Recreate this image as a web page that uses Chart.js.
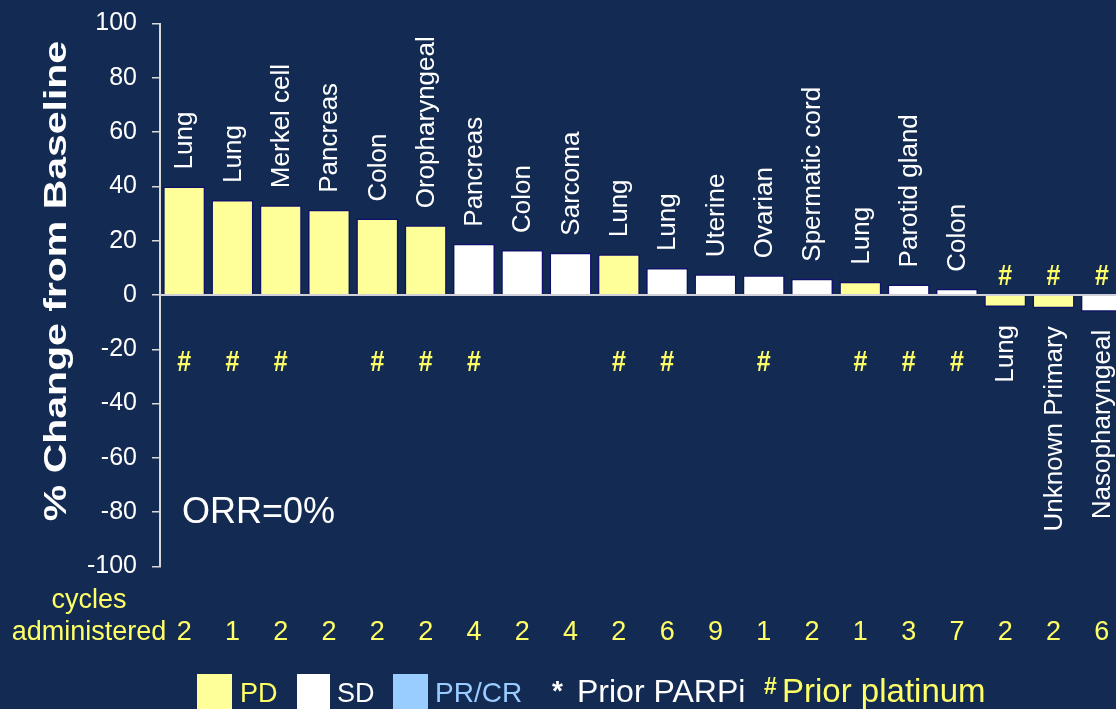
<!DOCTYPE html>
<html>
<head>
<meta charset="utf-8">
<script src="https://cdn.jsdelivr.net/npm/chart.js@4/dist/chart.umd.min.js"></script>
<style>
  html, body { margin: 0; padding: 0; background: #132a52; overflow: hidden; }
  canvas { display: block; }
</style>
</head>
<body>
<canvas id="c" width="1126" height="709" style="width:1126px;height:709px"></canvas>
<script>
// ---- Data ----
const categories = ['Lung', 'Lung', 'Merkel cell', 'Pancreas', 'Colon', 'Oropharyngeal', 'Pancreas', 'Colon', 'Sarcoma', 'Lung',
  'Lung', 'Uterine', 'Ovarian', 'Spermatic cord', 'Lung', 'Parotid gland', 'Colon', 'Lung', 'Unknown Primary', 'Nasopharyngeal'];
const changeValues = [40, 35, 33.1, 31.4, 28.2, 25.7, 18.9, 16.6, 15.6, 15.0,
  9.9, 7.6, 7.3, 6.0, 4.9, 3.9, 2.3, -4.4, -4.9, -6.2];
const responses = ['PD', 'PD', 'PD', 'PD', 'PD', 'PD', 'SD', 'SD', 'SD', 'PD',
  'SD', 'SD', 'SD', 'SD', 'PD', 'SD', 'SD', 'PD', 'PD', 'SD'];
const priorPlatinum = [true, true, true, false, true, true, true, false, false, true,
  true, false, true, false, true, true, true, true, true, true];
const cyclesAdministered = [2, 1, 2, 2, 2, 2, 4, 2, 4, 2, 6, 9, 1, 2, 1, 3, 7, 2, 2, 6];
const legendItems = ['PD', 'SD', 'PR/CR'];
const orrText = 'ORR=0%';
const yTitle = '% Change from Baseline';

// ---- Styles ----
const BG = '#132a52';
const YELLOW_TXT = '#ffff66';
const responseColors = { 'PD': '#ffff99', 'SD': '#ffffff', 'PR/CR': '#99ccff' };
const FONT = "'Liberation Sans', Arial, sans-serif";

function stext(ctx, text, x, y, rot, sx, sy) {
  ctx.save();
  ctx.translate(x, y);
  if (rot) ctx.rotate(rot);
  ctx.scale(sx || 1, sy || 1);
  ctx.fillText(text, 0, 0);
  ctx.restore();
}

const decorPlugin = {
  id: 'decor',
  beforeDraw(chart) {
    const ctx = chart.ctx;
    ctx.save();
    ctx.fillStyle = BG;
    ctx.fillRect(0, 0, chart.width, chart.height);
    ctx.restore();
  },
  afterDatasetsDraw(chart) {
    const ctx = chart.ctx;
    const ys = chart.scales.y;
    const area = chart.chartArea;
    const meta = chart.getDatasetMeta(0);
    const y0 = ys.getPixelForValue(0);

    // zero line
    ctx.save();
    ctx.strokeStyle = '#d0d0d8';
    ctx.lineWidth = 2;
    ctx.beginPath();
    ctx.moveTo(area.left, y0);
    ctx.lineTo(area.right, y0);
    ctx.stroke();

    // category labels (rotated)
    ctx.fillStyle = '#ffffff';
    ctx.font = '26px ' + FONT;
    ctx.textBaseline = 'middle';
    meta.data.forEach((bar, i) => {
      const v = changeValues[i];
      const cx = bar.x + 1;
      if (v >= 0) {
        ctx.textAlign = 'left';
        stext(ctx, categories[i], cx, bar.y - 17, -Math.PI / 2, 1.0, 1.0);
      } else {
        ctx.textAlign = 'right';
        stext(ctx, categories[i], cx, bar.y + 18, -Math.PI / 2, 1.0, 1.0);
      }
    });

    // prior platinum markers
    ctx.fillStyle = YELLOW_TXT;
    ctx.font = 'bold 25px ' + FONT;
    ctx.textAlign = 'center';
    ctx.textBaseline = 'middle';
    meta.data.forEach((bar, i) => {
      if (!priorPlatinum[i]) return;
      const v = changeValues[i];
      const py = v >= 0 ? ys.getPixelForValue(-25) : y0 - 18;
      stext(ctx, '#', bar.x, py, 0, 1, 1.15);
    });

    // cycles administered row
    ctx.font = '27px ' + FONT;
    ctx.textBaseline = 'alphabetic';
    ctx.textAlign = 'center';
    ctx.fillText('cycles', 89, 608);
    ctx.fillText('administered', 89, 640);
    meta.data.forEach((bar, i) => {
      ctx.fillText(String(cyclesAdministered[i]), bar.x, 640);
    });

    // ORR
    ctx.fillStyle = '#ffffff';
    ctx.font = '36px ' + FONT;
    ctx.textAlign = 'left';
    ctx.fillText(orrText, 182, 523);

    // y axis title
    ctx.font = 'bold 32px ' + FONT;
    ctx.textAlign = 'center';
    ctx.textBaseline = 'middle';
    stext(ctx, yTitle, 57, 281, -Math.PI / 2, 1.28, 1);

    // legend
    const boxes = [[197, 35], [297, 33], [393, 35]];
    const labelX = [240, 337, 435];
    const labelSize = [27, 27, 28];
    const labelColor = [YELLOW_TXT, '#ffffff', '#99ccff'];
    legendItems.forEach((k, i) => {
      ctx.fillStyle = responseColors[k];
      ctx.fillRect(boxes[i][0], 674, boxes[i][1], 40);
      ctx.fillStyle = labelColor[i];
      ctx.font = labelSize[i] + 'px ' + FONT;
      ctx.textAlign = 'left';
      ctx.textBaseline = 'alphabetic';
      ctx.fillText(k, labelX[i], 702);
    });
    ctx.fillStyle = '#ffffff';
    ctx.font = 'bold 28px ' + FONT;
    ctx.fillText('*', 552, 700);
    ctx.font = '32px ' + FONT;
    ctx.fillText('Prior PARPi', 577, 702);
    ctx.fillStyle = YELLOW_TXT;
    ctx.font = 'bold 23px ' + FONT;
    ctx.fillText('#', 764, 694);
    ctx.font = '33px ' + FONT;
    ctx.fillText('Prior platinum', 782, 702);
    ctx.restore();
  }
};

new Chart(document.getElementById('c'), {
  type: 'bar',
  data: {
    labels: categories,
    datasets: [{
      data: changeValues,
      backgroundColor: responses.map(r => responseColors[r]),
      borderColor: '#10106e',
      borderWidth: 1.5,
      barPercentage: 0.87,
      categoryPercentage: 1.0
    }]
  },
  options: {
    responsive: false,
    animation: false,
    devicePixelRatio: 1,
    layout: { padding: { top: 23.5, bottom: 142.5, left: 0, right: 0 } },
    plugins: { legend: { display: false }, tooltip: { enabled: false } },
    scales: {
      x: { display: false },
      y: {
        min: -100, max: 100,
        afterFit: s => { s.width = 160; s.paddingTop = 0; s.paddingBottom = 0; },
        ticks: { stepSize: 20, color: '#ffffff', font: { size: 25, family: FONT }, padding: 15 },
        grid: { drawOnChartArea: false, drawTicks: true, tickLength: 8, color: '#d8d8d8', lineWidth: 1.5 },
        border: { display: true, color: '#d8d8d8', width: 2 }
      }
    }
  },
  plugins: [decorPlugin]
});
</script>
</body>
</html>
